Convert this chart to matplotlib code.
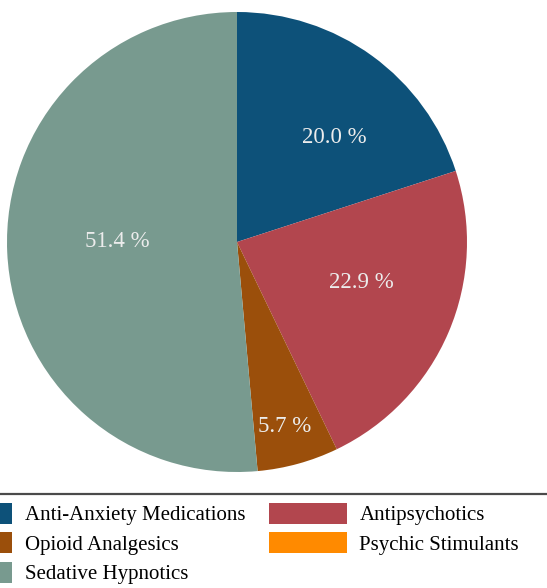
import numpy as np
import matplotlib.pyplot as plt
from matplotlib.lines import Line2D

categories = ["Anti-Anxiety Medications", "Antipsychotics", "Opioid Analgesics",
              "Psychic Stimulants", "Sedative Hypnotics"]
counts = [7, 8, 2, 0, 18]
colors = ["#0d5179", "#b2464e", "#9b4f0b", "#ff8a00", "#789a8f"]

# label placement inside each wedge: radius fraction and small angle nudge (deg)
label_r = [0.62, 0.57, 0.83, 0.0, 0.52]
label_nudge = [-7, 5, -1, 0, -3]

plt.rcParams["font.family"] = ["Liberation Serif", "DejaVu Serif"]

W, H, DPI = 547, 588, 100
fig = plt.figure(figsize=(W / DPI, H / DPI), dpi=DPI)

# pie centred at (237, 242) px with radius 230 px
cx, cy, R = 237, 242, 230
ax = fig.add_axes([(cx - R) / W, (H - cy - R) / H, 2 * R / W, 2 * R / H])

wedges, _ = ax.pie(counts, colors=colors, startangle=90, counterclock=False,
                   radius=1.0, wedgeprops=dict(linewidth=0))
ax.set_xlim(-1, 1)
ax.set_ylim(-1, 1)
ax.set_aspect("equal")
ax.axis("off")

total = sum(counts)
for w, c, r, nd in zip(wedges, counts, label_r, label_nudge):
    if c == 0:
        continue
    mid = np.deg2rad((w.theta1 + w.theta2) / 2 + nd)
    ax.text(r * np.cos(mid), r * np.sin(mid), f"{100 * c / total:.1f} %",
            ha="center", va="center", color="#ececec", fontsize=16.5)

# separator line above the legend
fig.add_artist(Line2D([0, 1], [1 - 494 / H, 1 - 494 / H], color="#4a4a4a", lw=1.6,
                      transform=fig.transFigure))

order = [0, 2, 4, 1, 3]
fig.legend([wedges[i] for i in order], [categories[i] for i in order],
           ncol=2, loc="upper left", bbox_to_anchor=(-65 / W, 1 - 503 / H),
           frameon=False, fontsize=15, borderpad=0, borderaxespad=0,
           handlelength=3.7, handleheight=1.15, handletextpad=0.62,
           columnspacing=1.15, labelspacing=0.34)

fig.savefig("out.png", dpi=DPI)
